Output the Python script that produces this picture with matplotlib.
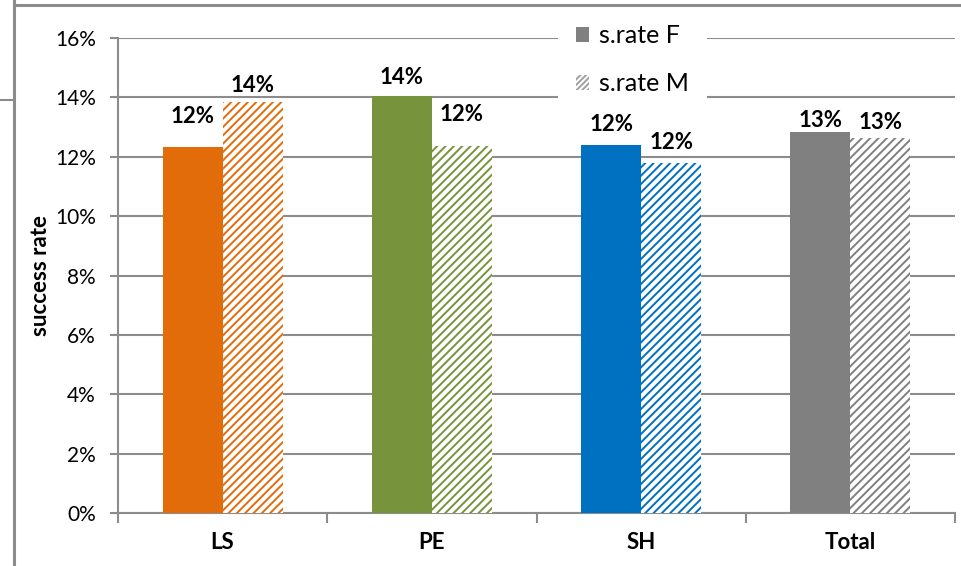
import matplotlib.pyplot as plt
from matplotlib.patches import Patch
from matplotlib.lines import Line2D
from matplotlib.ticker import PercentFormatter

# success rate by group, female / male
categories = ["LS", "PE", "SH", "Total"]
rate_f = [0.1233, 0.1404, 0.1239, 0.1283]
rate_m = [0.1384, 0.1236, 0.1179, 0.1263]
bar_colors = ["#E36C0A", "#77933C", "#0070C0", "#808080"]

# how far above each bar top the value label sits (pixels)
label_offset_f = [30, 19, 21, 12]
label_offset_m = [17, 32, 20, 16]

GRID = "#8c8c8c"

plt.rcParams["font.family"] = ["Lato", "DejaVu Sans"]
plt.rcParams["hatch.linewidth"] = 1.4

fig = plt.figure(figsize=(9.61, 5.66), dpi=100)
ax = fig.add_axes([118 / 961, 53 / 566, 837 / 961, 475 / 566])

width = 0.287
xs = range(len(categories))
for i in xs:
    ax.bar(i - width / 2, rate_f[i], width, color=bar_colors[i], linewidth=0, zorder=3)
    ax.bar(i + width / 2, rate_m[i], width, facecolor="white", edgecolor=bar_colors[i],
           hatch="////", linewidth=0, zorder=3)
    ax.annotate("{:.0%}".format(rate_f[i]), (i - width / 2, rate_f[i]),
                xytext=(0, label_offset_f[i]), textcoords="offset pixels",
                ha="center", va="center", fontsize=16, fontweight="bold")
    ax.annotate("{:.0%}".format(rate_m[i]), (i + width / 2, rate_m[i]),
                xytext=(0, label_offset_m[i]), textcoords="offset pixels",
                ha="center", va="center", fontsize=16, fontweight="bold")

ax.set_xlim(-0.5, len(categories) - 0.5)
ax.set_ylim(0, 0.16)
ax.set_yticks([i / 100 for i in range(0, 17, 2)])
ax.yaxis.set_major_formatter(PercentFormatter(1.0, decimals=0))
ax.set_xticks([i - 0.5 for i in range(len(categories) + 1)])
ax.set_xticklabels([])
ax.set_xticks(list(xs), minor=True)
ax.set_xticklabels(categories, minor=True, fontsize=16, fontweight="bold")
ax.tick_params(axis="x", which="major", length=7, color=GRID, width=1.5)
ax.tick_params(axis="x", which="minor", length=0, pad=14)
ax.tick_params(axis="y", length=6, color=GRID, width=1.5, labelsize=15, pad=10)

ax.grid(axis="y", color=GRID, linewidth=1.5, zorder=0)
for side in ["top", "right"]:
    ax.spines[side].set_visible(False)
for side in ["left", "bottom"]:
    ax.spines[side].set_color(GRID)
    ax.spines[side].set_linewidth(1.5)

ax.set_ylabel("success rate", fontsize=16, fontweight="bold", labelpad=3)

handles = [Patch(facecolor="#808080", linewidth=0),
           Patch(facecolor="white", edgecolor="#a0a0a0", hatch="//////", linewidth=0)]
leg = ax.legend(handles, ["s.rate F", "s.rate M"], loc="upper left",
                bbox_to_anchor=(440 / 837, 1.066), frameon=True, fancybox=False,
                facecolor="white", edgecolor="white", framealpha=1,
                fontsize=18, handlelength=0.55, handleheight=0.55,
                handletextpad=0.4, labelspacing=1.0, borderpad=0.7,
                borderaxespad=0)
leg.set_zorder(5)
leg.get_frame().set_linewidth(0)

# outer frame lines around the chart
frame_x = 14 / 961
fig.add_artist(Line2D([frame_x, frame_x], [0, 1], transform=fig.transFigure,
                      color=GRID, linewidth=2.2))
fig.add_artist(Line2D([frame_x, 1], [1 - 5 / 566, 1 - 5 / 566], transform=fig.transFigure,
                      color=GRID, linewidth=2.2))
fig.add_artist(Line2D([0, frame_x], [1 - 100 / 566, 1 - 100 / 566], transform=fig.transFigure,
                      color=GRID, linewidth=1.5))

fig.savefig("out.png", dpi=100)
